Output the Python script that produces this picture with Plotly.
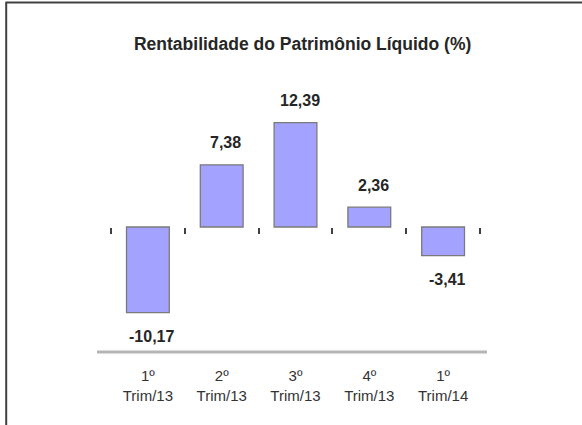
import plotly.graph_objects as go

periodos = ["1º<br>Trim/13", "2º<br>Trim/13", "3º<br>Trim/13", "4º<br>Trim/13", "1º<br>Trim/14"]
valores = [-10.17, 7.38, 12.39, 2.36, -3.41]
rotulos = ["-10,17", "7,38", "12,39", "2,36", "-3,41"]

fonte = "Liberation Sans Narrow, Arial Narrow, Liberation Sans, Arial"
x = list(range(len(valores)))
y_min, y_max = -14.85, 15.68

fig = go.Figure(go.Bar(
    x=x, y=valores, width=0.58,
    marker=dict(color="#a3a3ff", line=dict(color="#7a7a7a", width=1.3)),
    hoverinfo="skip"))

for xi, v, t in zip(x, valores, rotulos):
    fig.add_annotation(x=xi, y=v, text="<b>%s</b>" % t, showarrow=False,
                       xshift=4, yshift=22 if v > 0 else -24,
                       font=dict(family=fonte, size=16, color="#262626"))

fig.update_layout(
    template="none",
    width=582, height=425,
    margin=dict(l=111, r=102, t=95, b=73),
    paper_bgcolor="white", plot_bgcolor="white",
    showlegend=False,
    title=dict(text="<b>Rentabilidade do Patrimônio Líquido (%)</b>",
               x=0.52, xanchor="center", y=0.897, yanchor="middle",
               font=dict(family=fonte, size=17.5, color="#262626")),
    xaxis=dict(range=[-0.5, 4.5], tickvals=x, ticktext=periodos, automargin=False,
               showgrid=False, zeroline=False, showline=False, ticks="",
               ticklabelstandoff=13,
               tickfont=dict(family=fonte, size=15, color="#333333")),
    xaxis2=dict(range=[-0.5, 4.5], overlaying="x", anchor="free", automargin=False,
                position=(0 - y_min) / (y_max - y_min), side="bottom",
                tickvals=[i - 0.5 for i in range(len(valores) + 1)],
                ticks="outside", ticklen=6, tickwidth=2, tickcolor="#404040",
                showticklabels=False, showgrid=False, zeroline=False, showline=False),
    yaxis=dict(range=[y_min, y_max], visible=False, automargin=False),
    shapes=[
        dict(type="line", xref="paper", yref="paper", x0=-0.038, x1=1.019, y0=0, y1=0,
             line=dict(color="#b5b5b5", width=3)),
        dict(type="line", xref="paper", yref="paper", x0=-0.286, x1=1.3, y0=1.36, y1=1.36,
             line=dict(color="#404040", width=2)),
        dict(type="line", xref="paper", yref="paper", x0=-0.284, x1=-0.284, y0=1.36, y1=-0.3,
             line=dict(color="#404040", width=2)),
    ],
)
fig.add_trace(go.Scatter(x=[None], y=[None], xaxis="x2", showlegend=False))

# sem a margem padrao do <body>, para a figura ocupar a janela inteira
fig.write_html("out.html", config={"displayModeBar": False},
               post_script="document.body.style.margin='0px';")
